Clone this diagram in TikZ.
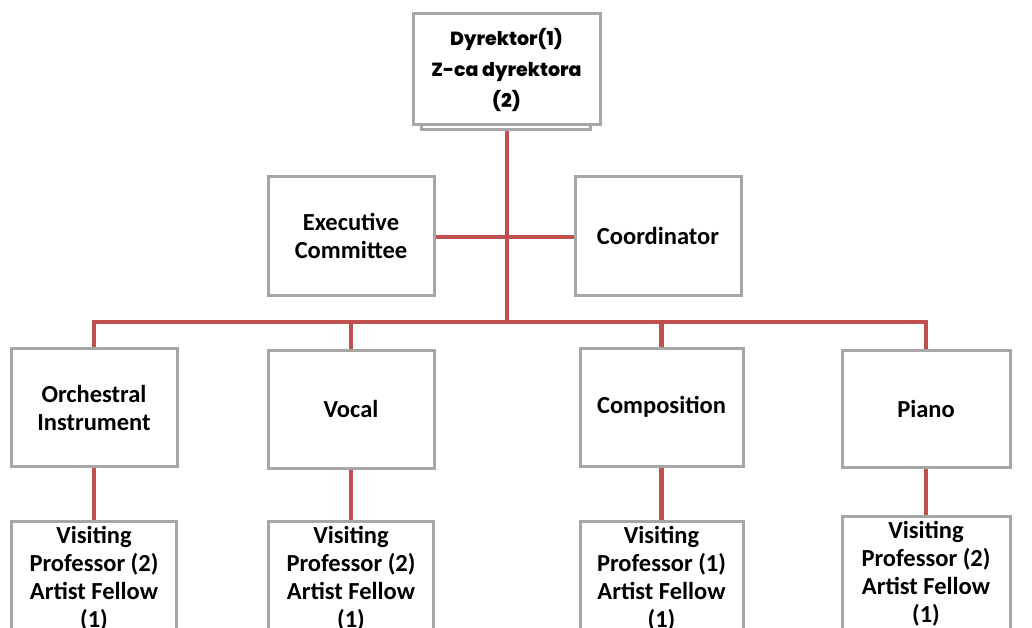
\documentclass[tikz,border=0pt]{standalone}
\usepackage{fontspec}
\setmainfont{Carlito}
\newfontfamily\topfont{Poppins}[BoldFont={* ExtraBold}]
\definecolor{linkred}{HTML}{C0504D}
\definecolor{boxgray}{HTML}{A6A6A6}
\begin{document}
\begin{tikzpicture}[x=1pt,y=-1pt,
  box/.style={draw=boxgray,line width=3pt,fill=white,align=center,
    font=\fontsize{24.5}{28}\selectfont\bfseries,inner sep=0pt},
  unitbox/.style={box,minimum width=166pt,minimum height=118pt},
  staffbox/.style={box,minimum width=165pt,anchor=north,inner ysep=5pt},
  link/.style={draw=linkred,line width=4.5pt}]
\useasboundingbox (0,0) rectangle (1032,628);
\clip (0,0) rectangle (1032,628);
% top box with shadow
\node[draw=boxgray,line width=3pt,fill=white,minimum width=169pt,minimum height=110pt,inner sep=0pt] (topsh) at (505.5,75) {};
\node[box,minimum width=187pt,minimum height=111pt,font=\topfont\fontsize{19}{31}\selectfont\bfseries] (top) at (506.5,69.5) {Dyrektor(1)\\Z-ca dyrektora\\(2)};
% second level
\node[unitbox] (exec) at (351,236) {Executive\\Committee};
\node[unitbox] (coord) at (658,236) {Coordinator};
% departments
\node[unitbox] (orch) at (94,407.5) {Orchestral\\Instrument};
\node[unitbox] (vocal) at (351,409) {Vocal};
\node[unitbox,minimum width=163pt] (comp) at (661.5,407) {Composition};
\node[unitbox,minimum width=168pt,minimum height=117pt] (piano) at (926,408.5) {Piano};
% staff
\node[staffbox] (orchS) at (94,520) {Visiting\\Professor (2)\\Artist Fellow\\(1)};
\node[staffbox] (vocalS) at (351,520) {Visiting\\Professor (2)\\Artist Fellow\\(1)};
\node[staffbox,minimum width=163pt] (compS) at (661.5,520) {Visiting\\Professor (1)\\Artist Fellow\\(1)};
\node[staffbox,minimum width=168pt] (pianoS) at (926,515) {Visiting\\Professor (2)\\Artist Fellow\\(1)};
% connectors
\coordinate (bus) at (507,322);
\coordinate (mid) at (507,237);
\draw[link] (topsh.south -| bus) -- (bus);
\draw[link] (exec.east |- mid) -- (coord.west |- mid);
\draw[link,line cap=rect] (orch.north |- bus) -- (piano.north |- bus);
\draw[link] (orch.north |- bus) -- (orch.north);
\draw[link] (vocal.north |- bus) -- (vocal.north);
\draw[link] (comp.north |- bus) -- (comp.north);
\draw[link] (piano.north |- bus) -- (piano.north);
\draw[link] (orch.south) -- (orchS.north);
\draw[link] (vocal.south) -- (vocalS.north);
\draw[link] (comp.south) -- (compS.north);
\draw[link] (piano.south) -- (pianoS.north);
\end{tikzpicture}
\end{document}
